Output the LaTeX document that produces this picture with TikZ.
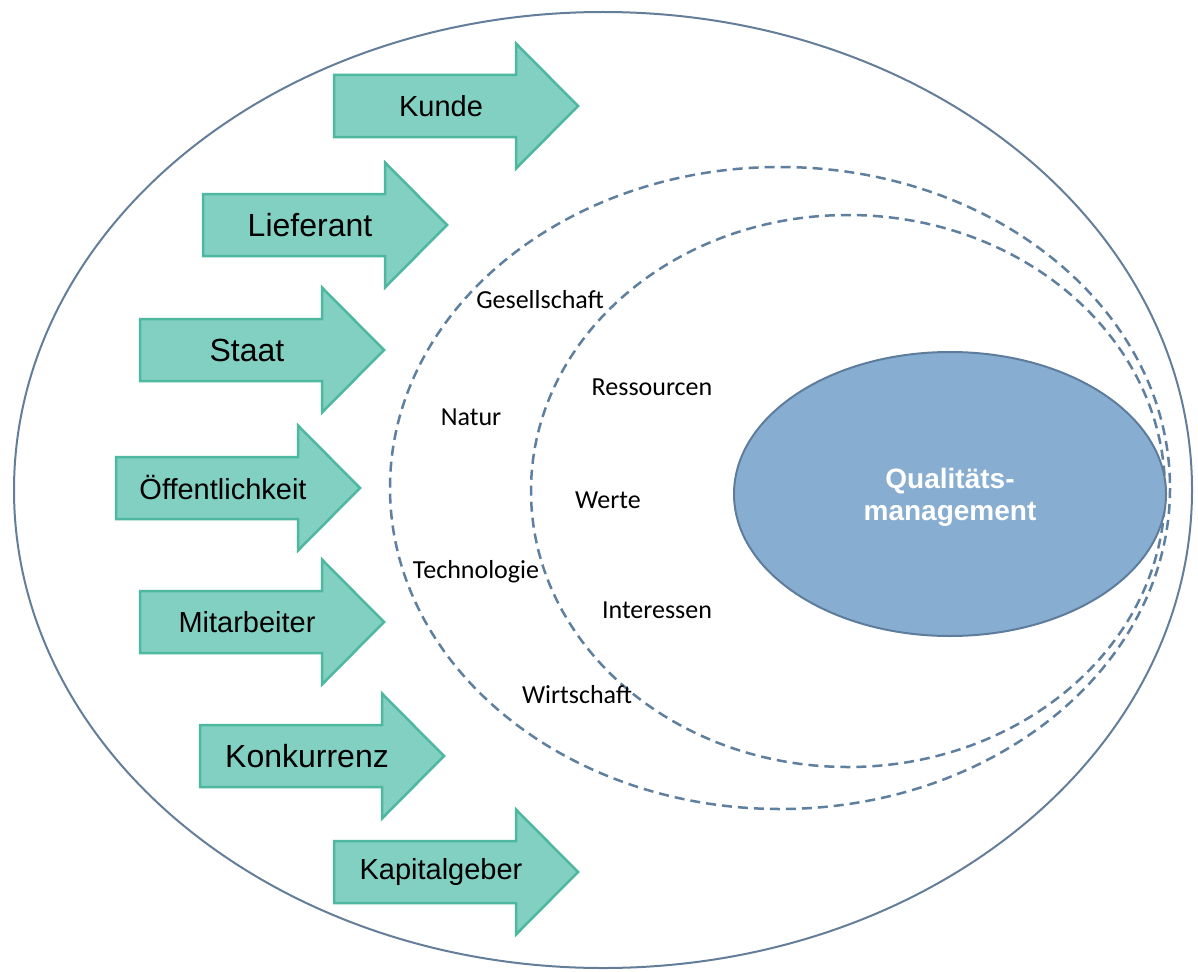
\documentclass[tikz,border=0pt]{standalone}
\usepackage{fontspec}
\setmainfont{Liberation Sans}
\newfontfamily\calibri{Carlito}
\usetikzlibrary{calc}

\definecolor{armfill}{HTML}{82D0C2}
\definecolor{armdraw}{HTML}{4DB89F}
\definecolor{qmfill}{HTML}{87ADD1}
\definecolor{qmdraw}{HTML}{5E7D9C}
\definecolor{ringline}{HTML}{647E9A}
\definecolor{dashline}{HTML}{5F7F9F}

% stakeholder arrow: #1 name, #2 left x, #3 middle y, #4 text, #5 label style
\newcommand{\stakeholder}[5]{
\draw[arm] (#2,#3) ++(0,-31) -- ++(182,0) -- ++(0,-31.5) -- ++(62,62.5) -- ++(-62,62.5) -- ++(0,-31.5) -- ++(-182,0) -- cycle;
\node[#5] (#1) at (#2+107,#3) {#4};
}

\begin{document}
\begin{tikzpicture}[
x=1pt, y=-1pt,
% rings
ring/.style={draw=ringline, line width=2pt},
dashring/.style={draw=dashline, line width=2.5pt, dash pattern=on 10pt off 6pt},
% arrows from outside
arm/.style={fill=armfill, draw=armdraw, line width=2.5pt, line join=miter},
armtext/.style={inner sep=0, font=\fontsize{29}{34}\selectfont},
armbig/.style={inner sep=0, font=\fontsize{32}{38}\selectfont},
% words inside the rings
ringtext/.style={inner sep=0, font=\calibri\fontsize{26}{30}\selectfont},
% core
core/.style={fill=qmfill, draw=qmdraw, line width=2pt}
]

\useasboundingbox[fill=white] (0,0) rectangle (1198,971);

%\draw[very thin, color=gray] (0,0) grid[step=100] (1198,971);

% outer ring and the two dashed rings
\draw[ring] (603,490) ellipse [x radius=589, y radius=478];
\draw[dashring] (780,488) ellipse [x radius=390, y radius=321];
\draw[dashring] (848,491) ellipse [x radius=317, y radius=276];

% quality management in the middle
\draw[core] (950,494) ellipse [x radius=216, y radius=142];
\node[align=center, text=white, inner sep=0, font=\bfseries\fontsize{28}{32}\selectfont] (qm) at (950,497) {Qualitäts-\\management};

% outer ring words
\node[ringtext] (gesellschaft) at (540,300) {Gesellschaft};
\node[ringtext] (natur) at (471,417) {Natur};
\node[ringtext] (technologie) at (476,572) {Technologie};
\node[ringtext] (wirtschaft) at (577,695) {Wirtschaft};

% inner ring words
\node[ringtext] (ressourcen) at (652,387) {Ressourcen};
\node[ringtext] (werte) at (608,500) {Werte};
\node[ringtext] (interessen) at (657,610) {Interessen};

% stakeholders
\stakeholder{kunde}{334}{106}{Kunde}{armtext}
\stakeholder{lieferant}{203}{225}{Lieferant}{armbig}
\stakeholder{staat}{140}{350}{Staat}{armbig}
\stakeholder{oeffentlichkeit}{116}{488}{Öffentlichkeit}{armtext}
\stakeholder{mitarbeiter}{140}{622}{Mitarbeiter}{armtext}
\stakeholder{konkurrenz}{200}{756}{Konkurrenz}{armbig}
\stakeholder{kapitalgeber}{334}{872}{Kapitalgeber}{armtext}

\end{tikzpicture}
\end{document}
